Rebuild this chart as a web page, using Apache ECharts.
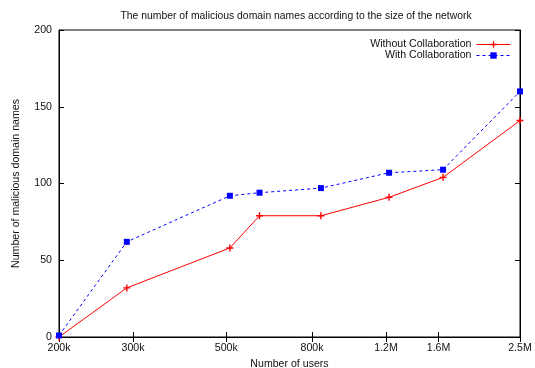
<!DOCTYPE html>
<html>
<head>
<meta charset="utf-8">
<script src="https://cdn.jsdelivr.net/npm/echarts@6/dist/echarts.min.js"></script>
<style>
  html, body { margin: 0; padding: 0; background: #fff; }
  #chart { width: 535px; height: 368px; }
</style>
</head>
<body>
<div id="chart"></div>
<script>
// number of users (x)
const users = [200000, 290000, 510000, 600000, 840000, 1220000, 1640000, 2500000]
const withoutCollab = [0, 32, 58, 79, 79, 91, 104, 141]
const withCollab = [1, 62, 92, 94, 97, 107, 109, 160]

// x tick labels
const xTicks = [200000, 300000, 500000, 800000, 1200000, 1600000, 2500000]
const xTickText = ['200k', '300k', '500k', '800k', '1.2M', '1.6M', '2.5M']

const font = 'Liberation Sans, Arial, sans-serif'
const plus = 'path://M4,0H6V4H10V6H6V10H4V6H0V4H4Z'

function pairs(xs, ys) {
  return xs.map((x, i) => [x, ys[i]])
}

const chart = echarts.init(document.getElementById('chart'))

const xBase = {
  type: 'log',
  logBase: 10,
  min: 200000,
  max: 2500000,
  splitLine: { show: false },
  axisLine: { show: true, lineStyle: { color: '#000', width: 1 } },
  axisTick: { show: true, inside: true, length: 5, customValues: xTicks, lineStyle: { color: '#000' } },
  minorTick: { show: false }
}

const yBase = {
  type: 'value',
  min: 0,
  max: 200,
  interval: 50,
  splitLine: { show: false },
  axisLine: { show: true, lineStyle: { color: '#000', width: 1 } },
  axisTick: { show: true, inside: true, length: 5, lineStyle: { color: '#000' } }
}

chart.setOption({
  animation: false,
  backgroundColor: '#fff',
  textStyle: { fontFamily: font },
  title: {
    text: 'The number of malicious domain names according to the size of the network',
    left: 291,
    textAlign: 'center',
    top: 6,
    textStyle: { fontSize: 10.4, fontWeight: 'normal', color: '#111', fontFamily: font }
  },
  legend: {
    orient: 'vertical',
    align: 'right',
    right: 19,
    top: 34,
    itemWidth: 34,
    itemHeight: 8,
    itemGap: 0,
    lineStyle: { width: 1 },
    textStyle: { fontSize: 10.6, lineHeight: 11, color: '#111', fontFamily: font },
    data: ['Without Collaboration', 'With Collaboration']
  },
  grid: {
    left: 59,
    right: 15,
    top: 30,
    bottom: 31,
    outerBoundsMode: 'none',
    containLabel: false,
    show: true,
    borderColor: '#000',
    borderWidth: 1
  },
  xAxis: [
    Object.assign({}, xBase, {
      position: 'bottom',
      name: 'Number of users',
      nameLocation: 'middle',
      nameGap: 22,
      nameTextStyle: { fontSize: 10.6, color: '#111', fontFamily: font },
      axisLabel: {
        show: true,
        customValues: xTicks,
        margin: 6,
        fontSize: 10.6,
        color: '#111',
        fontFamily: font,
        formatter: v => {
          const i = xTicks.findIndex(t => Math.abs(t - v) / t < 0.001)
          return i >= 0 ? xTickText[i] : ''
        }
      }
    }),
    Object.assign({}, xBase, {
      position: 'top',
      axisLabel: { show: false }
    })
  ],
  yAxis: [
    Object.assign({}, yBase, {
      position: 'left',
      name: 'Number of malicious domain names',
      nameLocation: 'middle',
      nameGap: 37,
      nameTextStyle: { fontSize: 10.6, color: '#111', fontFamily: font },
      axisLabel: { margin: 7, fontSize: 10.6, color: '#111', fontFamily: font }
    }),
    Object.assign({}, yBase, {
      position: 'right',
      axisLabel: { show: false }
    })
  ],
  series: [
    {
      name: 'Without Collaboration',
      type: 'line',
      data: pairs(users, withoutCollab),
      symbol: plus,
      symbolSize: 7,
      color: '#ff0000',
      itemStyle: { color: '#ff0000' },
      lineStyle: { color: '#ff0000', width: 1 }
    },
    {
      name: 'With Collaboration',
      type: 'line',
      data: pairs(users, withCollab),
      symbol: 'rect',
      symbolSize: 6,
      color: '#0000ff',
      itemStyle: { color: '#0000ff' },
      lineStyle: { color: '#0000ff', width: 1, type: [3, 3] }
    }
  ]
})
</script>
</body>
</html>
